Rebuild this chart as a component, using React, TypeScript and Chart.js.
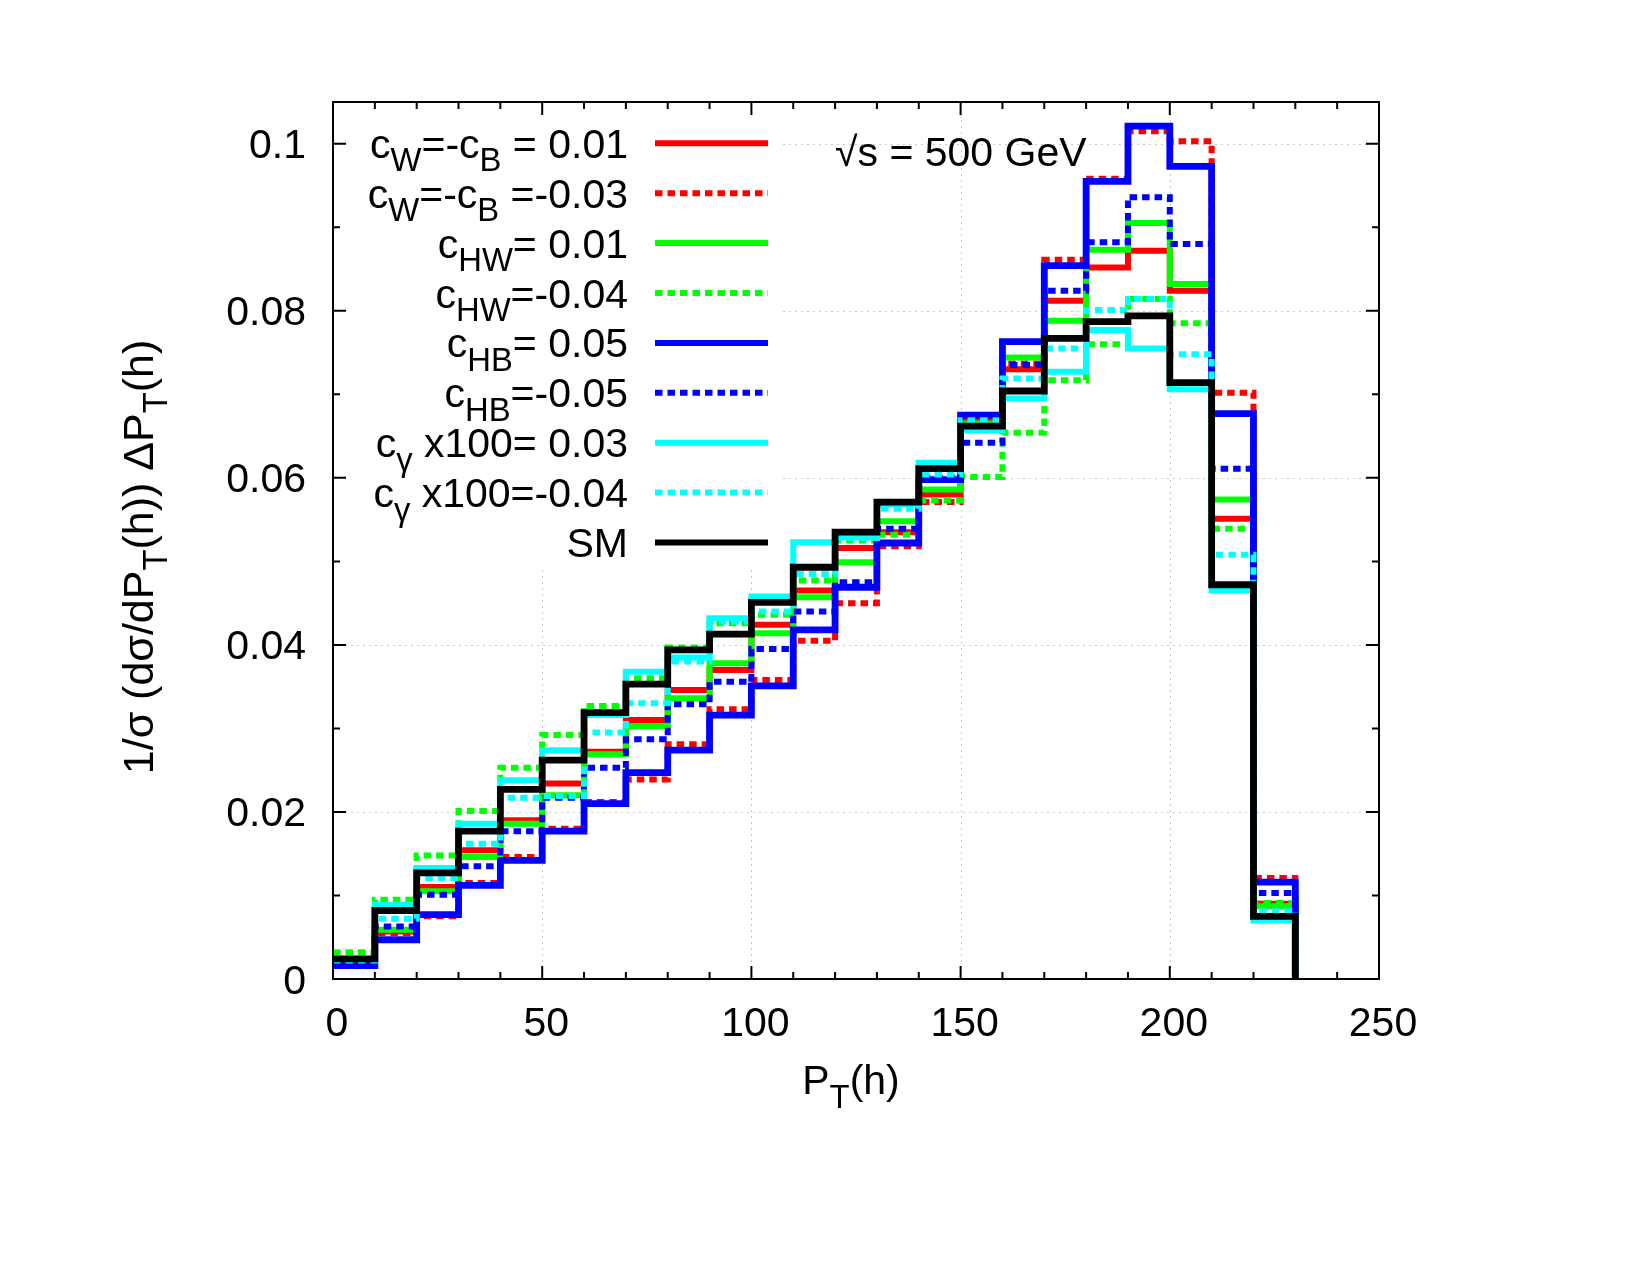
import React, { useEffect, useRef } from "react";
import { Chart, registerables } from "chart.js";
Chart.register(...registerables);

// ---- data (bin lower edges, bin width 10 GeV) ----
const binEdges = [0, 10, 20, 30, 40, 50, 60, 70, 80, 90, 100, 110, 120, 130, 140, 150, 160, 170, 180, 190, 200, 210, 220];
const lastEdge = 230;

const cWpos = [0.0021, 0.0057, 0.0110, 0.0154, 0.0190, 0.0234, 0.0272, 0.0310, 0.0346, 0.0370, 0.0424, 0.0465, 0.0516, 0.0535, 0.0580, 0.0668, 0.0730, 0.0812, 0.0852, 0.0872, 0.0824, 0.0551, 0.0090];
const cWneg = [0.0019, 0.0055, 0.0075, 0.0115, 0.0146, 0.0180, 0.0212, 0.0239, 0.0281, 0.0323, 0.0358, 0.0405, 0.0450, 0.0518, 0.0571, 0.0668, 0.0737, 0.0861, 0.0958, 0.1015, 0.1003, 0.0702, 0.0121];
const cHWpos = [0.0024, 0.0059, 0.0105, 0.0146, 0.0186, 0.0220, 0.0269, 0.0303, 0.0336, 0.0378, 0.0414, 0.0457, 0.0499, 0.0548, 0.0586, 0.0665, 0.0744, 0.0788, 0.0873, 0.0905, 0.0832, 0.0574, 0.0087];
const cHWneg = [0.0032, 0.0095, 0.0148, 0.0201, 0.0253, 0.0292, 0.0327, 0.0360, 0.0397, 0.0426, 0.0436, 0.0477, 0.0525, 0.0532, 0.0573, 0.0601, 0.0654, 0.0717, 0.0760, 0.0814, 0.0785, 0.0539, 0.0091];
const cHBpos = [0.0016, 0.0047, 0.0077, 0.0112, 0.0142, 0.0177, 0.0210, 0.0247, 0.0274, 0.0316, 0.0351, 0.0418, 0.0469, 0.0522, 0.0598, 0.0675, 0.0763, 0.0854, 0.0955, 0.1021, 0.0973, 0.0677, 0.0116];
const cHBneg = [0.0019, 0.0063, 0.0101, 0.0135, 0.0177, 0.0217, 0.0253, 0.0287, 0.0329, 0.0356, 0.0395, 0.0440, 0.0475, 0.0539, 0.0600, 0.0642, 0.0735, 0.0824, 0.0882, 0.0936, 0.0880, 0.0611, 0.0103];
const cGpos = [0.0024, 0.0089, 0.0133, 0.0186, 0.0238, 0.0274, 0.0316, 0.0368, 0.0385, 0.0432, 0.0458, 0.0523, 0.0529, 0.0568, 0.0618, 0.0657, 0.0695, 0.0727, 0.0777, 0.0755, 0.0706, 0.0465, 0.0070];
const cGneg = [0.0022, 0.0072, 0.0121, 0.0162, 0.0217, 0.0219, 0.0295, 0.0330, 0.0380, 0.0428, 0.0440, 0.0485, 0.0528, 0.0563, 0.0604, 0.0669, 0.0719, 0.0755, 0.0801, 0.0814, 0.0748, 0.0508, 0.0081];
const smValues = [0.0024, 0.0082, 0.0127, 0.0177, 0.0227, 0.0262, 0.0319, 0.0353, 0.0394, 0.0413, 0.0451, 0.0493, 0.0535, 0.0571, 0.0611, 0.0662, 0.0704, 0.0767, 0.0787, 0.0794, 0.0714, 0.0472, 0.0075];

const xTickValues = [0, 50, 100, 150, 200, 250];
const xTickLabels = ["0", "50", "100", "150", "200", "250"];
const yTickValues = [0, 0.02, 0.04, 0.06, 0.08, 0.1];
const yTickLabels = ["0", "0.02", "0.04", "0.06", "0.08", "0.1"];
const xMinorStep = 10;
const yMinorStep = 0.01;

type Seg = { t: string; sub?: boolean };

const seriesLabels: Seg[][] = [
  [{ t: "c" }, { t: "W", sub: true }, { t: "=-c" }, { t: "B", sub: true }, { t: " = 0.01" }],
  [{ t: "c" }, { t: "W", sub: true }, { t: "=-c" }, { t: "B", sub: true }, { t: " =-0.03" }],
  [{ t: "c" }, { t: "HW", sub: true }, { t: "= 0.01" }],
  [{ t: "c" }, { t: "HW", sub: true }, { t: "=-0.04" }],
  [{ t: "c" }, { t: "HB", sub: true }, { t: "= 0.05" }],
  [{ t: "c" }, { t: "HB", sub: true }, { t: "=-0.05" }],
  [{ t: "c" }, { t: "\u03b3", sub: true }, { t: " x100= 0.03" }],
  [{ t: "c" }, { t: "\u03b3", sub: true }, { t: " x100=-0.04" }],
  [{ t: "SM" }],
];
const seriesValues = [cWpos, cWneg, cHWpos, cHWneg, cHBpos, cHBneg, cGpos, cGneg, smValues];
const seriesColors = ["#ff0000", "#ff0000", "#00ff00", "#00ff00", "#0000ff", "#0000ff", "#00ffff", "#00ffff", "#000000"];
const seriesDotted = [false, true, false, true, false, true, false, true, false];
const seriesWidths = [6, 6, 6, 6, 6.8, 6, 6, 6, 6.8];

const titleSegs: Seg[] = [{ t: "\u221as = 500 GeV" }];
const xTitleSegs: Seg[] = [{ t: "P" }, { t: "T", sub: true }, { t: "(h)" }];
const yTitleSegs: Seg[] = [{ t: "1/\u03c3 (d\u03c3/dP" }, { t: "T", sub: true }, { t: "(h)) \u0394P" }, { t: "T", sub: true }, { t: "(h)" }];

const FONT = '"Liberation Sans", Arial, Helvetica, sans-serif';
const FS = 41;
const DOT_DASH = [7.5, 5];

function richWidth(ctx: CanvasRenderingContext2D, segs: Seg[], size: number) {
  let w = 0;
  for (const s of segs) {
    ctx.font = `${s.sub ? size * 0.8 : size}px ${FONT}`;
    w += ctx.measureText(s.t).width;
  }
  return w;
}

function drawRich(ctx: CanvasRenderingContext2D, segs: Seg[], x: number, y: number, size: number, align: "left" | "right" | "center") {
  const w = richWidth(ctx, segs, size);
  let cx = align === "left" ? x : align === "right" ? x - w : x - w / 2;
  ctx.textAlign = "left";
  ctx.textBaseline = "alphabetic";
  ctx.fillStyle = "#000";
  for (const s of segs) {
    ctx.font = `${s.sub ? size * 0.8 : size}px ${FONT}`;
    ctx.fillText(s.t, cx, y + (s.sub ? size * 0.33 : 0));
    cx += ctx.measureText(s.t).width;
  }
}

const decorPlugin = {
  id: "decor",
  beforeDraw(chart: any) {
    const ctx = chart.ctx as CanvasRenderingContext2D;
    ctx.save();
    ctx.fillStyle = "#fff";
    ctx.fillRect(0, 0, chart.width, chart.height);
    ctx.restore();
  },
  beforeDatasetsDraw(chart: any) {
    const ctx = chart.ctx as CanvasRenderingContext2D;
    const { left, right, top, bottom } = chart.chartArea;
    const xs = chart.scales.x;
    const ys = chart.scales.y;
    ctx.save();
    ctx.strokeStyle = "#c8c8c8";
    ctx.lineWidth = 1;
    ctx.setLineDash([2, 4]);
    for (const v of xTickValues) {
      const px = Math.round(xs.getPixelForValue(v)) + 0.5;
      if (px <= left + 2 || px >= right - 2) continue;
      ctx.beginPath();
      ctx.moveTo(px, top);
      ctx.lineTo(px, bottom);
      ctx.stroke();
    }
    for (const v of yTickValues) {
      const py = Math.round(ys.getPixelForValue(v)) + 0.5;
      if (py <= top + 2 || py >= bottom - 2) continue;
      ctx.beginPath();
      ctx.moveTo(left, py);
      ctx.lineTo(right, py);
      ctx.stroke();
    }
    ctx.restore();
  },
  afterDatasetsDraw(chart: any) {
    const ctx = chart.ctx as CanvasRenderingContext2D;
    const { left, right, top, bottom } = chart.chartArea;
    const xs = chart.scales.x;
    const ys = chart.scales.y;
    ctx.save();

    // opaque key box
    const keyRight = 782;
    const keyBottom = 568;
    ctx.fillStyle = "#fff";
    ctx.fillRect(left + 1, top + 1, keyRight - left, keyBottom - top);

    // key entries
    for (let i = 0; i < seriesLabels.length; i++) {
      const cy = 143.3 + 49.9 * i;
      drawRich(ctx, seriesLabels[i], 628, cy + 14.5, FS, "right");
      ctx.beginPath();
      ctx.strokeStyle = seriesColors[i];
      ctx.lineWidth = 6;
      ctx.lineCap = "butt";
      ctx.setLineDash(seriesDotted[i] ? DOT_DASH : []);
      ctx.moveTo(655, cy);
      ctx.lineTo(768, cy);
      ctx.stroke();
    }
    ctx.setLineDash([]);

    // label
    drawRich(ctx, titleSegs, 835, 166, FS, "left");

    // border
    ctx.strokeStyle = "#000";
    ctx.lineWidth = 2;
    ctx.strokeRect(left, top, right - left, bottom - top);

    // ticks (inward, mirrored)
    ctx.lineWidth = 2;
    const major = 13;
    const minor = 7;
    for (let k = 0; k <= 25; k++) {
      const v = k * xMinorStep;
      const isMajor = xTickValues.some((t) => Math.abs(t - v) < 1e-6);
      const len = isMajor ? major : minor;
      const px = xs.getPixelForValue(v);
      ctx.beginPath();
      ctx.moveTo(px, bottom);
      ctx.lineTo(px, bottom - len);
      ctx.moveTo(px, top);
      ctx.lineTo(px, top + len);
      ctx.stroke();
    }
    for (let k = 0; k <= 10; k++) {
      const v = k * yMinorStep;
      const isMajor = yTickValues.some((t) => Math.abs(t - v) < 1e-9);
      const len = isMajor ? major : minor;
      const py = ys.getPixelForValue(v);
      ctx.beginPath();
      ctx.moveTo(left, py);
      ctx.lineTo(left + len, py);
      ctx.moveTo(right, py);
      ctx.lineTo(right - len, py);
      ctx.stroke();
    }

    // tick labels
    ctx.fillStyle = "#000";
    ctx.font = `${FS}px ${FONT}`;
    ctx.textBaseline = "alphabetic";
    ctx.textAlign = "center";
    xTickValues.forEach((v, i) => {
      ctx.fillText(xTickLabels[i], xs.getPixelForValue(v) + 4, 1036);
    });
    ctx.textAlign = "right";
    yTickValues.forEach((v, i) => {
      ctx.fillText(yTickLabels[i], 306, ys.getPixelForValue(v) + 14.5);
    });

    // axis titles
    drawRich(ctx, xTitleSegs, 851, 1094, FS, "center");
    ctx.save();
    ctx.translate(153, 557);
    ctx.rotate(-Math.PI / 2);
    drawRich(ctx, yTitleSegs, 0, 0, 43, "center");
    ctx.restore();

    ctx.restore();
  },
};

function toSteps(values: number[]) {
  const pts = binEdges.map((e, i) => ({ x: e, y: values[i] }));
  pts.push({ x: lastEdge, y: values[values.length - 1] });
  pts.push({ x: lastEdge, y: 0 });
  return pts;
}

export default function App() {
  const ref = useRef<HTMLCanvasElement | null>(null);
  useEffect(() => {
    if (!ref.current) return;
    const datasets = seriesValues.map((vals, i) => ({
      label: seriesLabels[i].map((s) => s.t).join(""),
      data: toSteps(vals),
      stepped: "before" as const,
      borderColor: seriesColors[i],
      backgroundColor: seriesColors[i],
      borderWidth: seriesWidths[i],
      borderDash: seriesDotted[i] ? DOT_DASH : [],
      borderCapStyle: "butt" as const,
      borderJoinStyle: "miter" as const,
      pointRadius: 0,
      fill: false,
      tension: 0,
      order: seriesValues.length - i,
    }));
    const chart = new Chart(ref.current, {
      type: "line",
      data: { datasets },
      options: {
        animation: false,
        responsive: false,
        devicePixelRatio: 1,
        layout: { padding: { left: 0, top: 102, right: 271, bottom: 0 } },
        plugins: { legend: { display: false }, tooltip: { enabled: false }, title: { display: false } },
        scales: {
          x: {
            type: "linear",
            min: 0,
            max: 250,
            ticks: { display: false, stepSize: 50 },
            grid: { display: false },
            border: { display: false },
            afterFit: (s: any) => {
              s.height = 296;
            },
          },
          y: {
            type: "linear",
            min: 0,
            max: 0.105,
            ticks: { display: false, stepSize: 0.02, includeBounds: false },
            grid: { display: false },
            border: { display: false },
            afterFit: (s: any) => {
              s.width = 333;
            },
          },
        },
      },
      plugins: [decorPlugin],
    });
    return () => chart.destroy();
  }, []);
  return (
    <div style={{ position: "absolute", left: 0, top: 0, width: 1650, height: 1275, background: "#fff" }}>
      <canvas ref={ref} width={1650} height={1275} style={{ width: 1650, height: 1275, display: "block" }} />
    </div>
  );
}
